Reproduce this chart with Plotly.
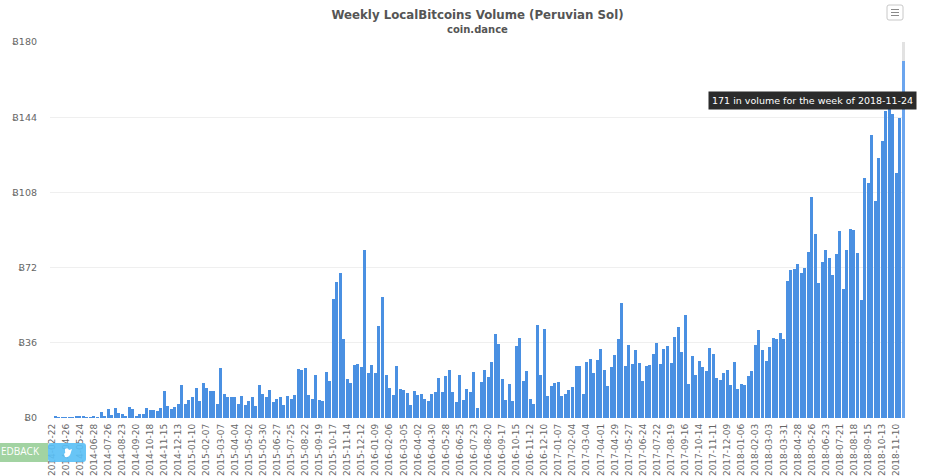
import pandas as pd
import plotly.graph_objects as go

title_text = "Weekly LocalBitcoins Volume (Peruvian Sol)"
subtitle_text = "coin.dance"
tooltip_text = "171 in volume for the week of 2018-11-24"
y_ticks = [0, 36, 72, 108, 144, 180]
y_tick_labels = ["Ƀ0", "Ƀ36", "Ƀ72", "Ƀ108", "Ƀ144", "Ƀ180"]

early_weeks = ["2014-02-22", "2014-03-15", "2014-03-29", "2014-04-12", "2014-04-26",
               "2014-05-03", "2014-05-10", "2014-05-17", "2014-05-24", "2014-05-31",
               "2014-06-07", "2014-06-14"]
later_weeks = [d.strftime("%Y-%m-%d") for d in pd.date_range("2014-06-28", "2018-11-24", freq="7D")]
weeks = early_weeks + later_weeks

vol_2014_15 = [0, 0.9, 0.3, 0.05, 0.05, 0.05, 0.05, 0.6, 1, 0.9, 0.2, 0.1, 0.8, 0.2, 2.7, 1, 4.3, 1.5, 4.6,
               2.5, 2, 0.6, 5.4, 4.2, 0.5, 1.8, 1.8, 4.6, 4, 3.7, 3.5, 4.8, 13, 5.9, 4.3, 5.3, 6.9,
               15.7, 6.7, 8.8, 10, 14.4, 8.2, 16.6, 14.6, 12.8, 13, 6.7, 24, 11.5, 10, 10, 10, 6.7,
               10.4, 6.2, 8.2, 10, 5.8, 16, 11.5, 10, 13.6, 7.7, 9, 10, 6.2, 10.7, 9.3, 10.9, 23.5,
               23.2, 24]
vol_2015_17 = [10.9, 9, 20.8, 8.6, 8.3, 22.2, 17.9, 56.8, 65.1, 69.6, 37.6, 18.7, 16.6, 25.6, 26, 24.2,
               80.3, 21.6, 25.3, 21.6, 44, 57.8, 20.8, 14.6, 11, 25.1, 13.9, 13.4, 11.8, 6.2, 13, 11,
               11.4, 9.3, 8, 11.7, 12.6, 19, 12.6, 20.3, 23.2, 12.5, 7.7, 20.6, 8.8, 14.1, 12.6, 22.2,
               5, 17.4, 23, 19.7, 26.6, 40, 35.4, 18.7, 8.5, 16.5, 8.2, 34.4, 38.2, 17.9, 22.7, 9.3,
               6.9, 44.5, 20.6, 42.7, 10.7, 15.5, 16.8, 17, 10.6, 11.7, 13.4, 14.7, 25, 25.1, 11.7,
               27, 28.3, 21.4, 28, 33.1, 23, 15.2, 24.5]
vol_2017_18 = [30.4, 37.6, 55.2, 25, 35, 26, 32.6, 26.2, 17.9, 25.1, 25.4, 30.7, 35.7, 25.8, 33, 34.6,
               26.2, 38.6, 43.4, 31.5, 49.3, 16.5, 29.8, 20.5, 27.4, 24.5, 22.4, 33.3, 30.7, 19.2,
               18.2, 21.4, 23, 16, 26.7, 14.1, 16.5, 15.7, 20.3, 22.7, 34.9, 42, 32.6, 27.5, 34.2,
               38.2, 37.8, 40.6, 37.9, 65.4, 71, 71.5, 73.8, 69.6, 71.7, 79.4, 105.8, 88.3, 64.8,
               74.9, 80.2, 76.8, 68.5, 78.4, 89.6, 61.9, 80.5, 90.5, 89.8, 79, 56.6, 114.8, 112.4,
               135.5, 104, 124.3, 132.8, 146.9, 150, 145.3, 117.5, 143.5, 171]
volumes = vol_2014_15 + vol_2015_17 + vol_2017_18
assert len(weeks) == len(volumes) == 243, (len(weeks), len(volumes))

hover_band = [None] * 242 + [9]
bar_colors = ["#4a90e2"] * 242 + ["#6ba5ee"]

W, H = 927, 476
L, R, T, B = 50, 22, 42, 58
pw, ph = W - L - R, H - T - B


def px(x):
    return (x - L) / pw


def py(y):
    return (H - B - y) / ph


def rrect(x0, y0, x1, y1, r):
    return (f"M{px(x0 + r)},{py(y0)} L{px(x1 - r)},{py(y0)} Q{px(x1)},{py(y0)} {px(x1)},{py(y0 + r)} "
            f"L{px(x1)},{py(y1 - r)} Q{px(x1)},{py(y1)} {px(x1 - r)},{py(y1)} "
            f"L{px(x0 + r)},{py(y1)} Q{px(x0)},{py(y1)} {px(x0)},{py(y1 - r)} "
            f"L{px(x0)},{py(y0 + r)} Q{px(x0)},{py(y0)} {px(x0 + r)},{py(y0)} Z")


fig = go.Figure()
fig.add_bar(x=weeks, y=volumes, marker=dict(color=bar_colors, line_width=0), hoverinfo="skip", showlegend=False)
fig.add_bar(x=weeks, y=hover_band, marker=dict(color="#e2e2e2", line_width=0), hoverinfo="skip", showlegend=False)

shapes = [
    dict(type="path", xref="paper", yref="paper", path=rrect(887, 5, 903, 20, 2),
         line=dict(color="#c8c8c8", width=1), fillcolor="white"),
    dict(type="rect", xref="paper", yref="paper", x0=px(0), x1=px(48), y0=py(462), y1=py(443),
         line_width=0, fillcolor="#98ce98", opacity=0.9, layer="above"),
    dict(type="path", xref="paper", yref="paper", path=rrect(48, 443, 86, 462, 3),
         line_width=0, fillcolor="#58bff5", opacity=0.9, layer="above"),
    dict(type="path", xref="paper", yref="paper",
         path=(f"M{px(64)},{py(454)} Q{px(66)},{py(453)} {px(65)},{py(451)} L{px(65)},{py(449)} "
               f"Q{px(68)},{py(447)} {px(69)},{py(450)} L{px(72)},{py(449)} L{px(71)},{py(452)} "
               f"Q{px(70)},{py(458)} {px(65)},{py(457)} Z"),
         line_width=0, fillcolor="white", layer="above"),
]
for ly in (9.5, 12.5, 15.5):
    shapes.append(dict(type="line", xref="paper", yref="paper", x0=px(891), x1=px(899), y0=py(ly), y1=py(ly),
                       line=dict(color="#8a8a8a", width=1)))

annotations = [
    dict(text=f"<b>{subtitle_text}</b>", xref="paper", yref="paper", x=px(477.5), y=py(29), showarrow=False,
         font=dict(family="DejaVu Sans", size=10, color="#555555"), xanchor="center", yanchor="middle"),
    dict(text=tooltip_text, xref="paper", yref="paper", x=px(812), y=py(100), showarrow=False,
         font=dict(family="DejaVu Sans", size=9.5, color="white"), bgcolor="#2b2b2b",
         borderpad=3, xanchor="center", yanchor="middle"),
    dict(text="EDBACK", xref="paper", yref="paper", x=px(-1), y=py(451), showarrow=False,
         font=dict(family="Open Sans", size=10, color="white"), xanchor="left", yanchor="middle"),
]

fig.update_layout(
    width=W, height=H, margin=dict(l=L, r=R, t=T, b=B),
    paper_bgcolor="white", plot_bgcolor="white",
    barmode="stack", bargap=0.14, showlegend=False,
    title=dict(text=f"<b>{title_text}</b>", x=0.5, xref="paper", xanchor="center", y=1 - 15 / H, yanchor="middle",
               font=dict(family="DejaVu Sans", size=11.8, color="#555555")),
    xaxis=dict(type="category", categoryorder="array", categoryarray=weeks,
               tickmode="array", tickvals=weeks[::4], ticktext=weeks[::4], tickangle=-90,
               tickfont=dict(family="DejaVu Sans", size=9, color="#666666"),
               showgrid=False, showline=False, zeroline=False, ticks="", ticklen=0,
               ticklabelstandoff=3, automargin=False),
    yaxis=dict(range=[0, 180], tickmode="array", tickvals=y_ticks, ticktext=y_tick_labels,
               tickfont=dict(family="DejaVu Sans", size=9.5, color="#666666"),
               gridcolor="#efefef", gridwidth=1, zeroline=False, showline=False, automargin=False,
               ticklabelstandoff=12),
    shapes=shapes, annotations=annotations,
)

fig.write_html("out.html", config={"displayModeBar": False},
               post_script="document.body.style.margin='0';document.body.style.overflow='hidden';")
